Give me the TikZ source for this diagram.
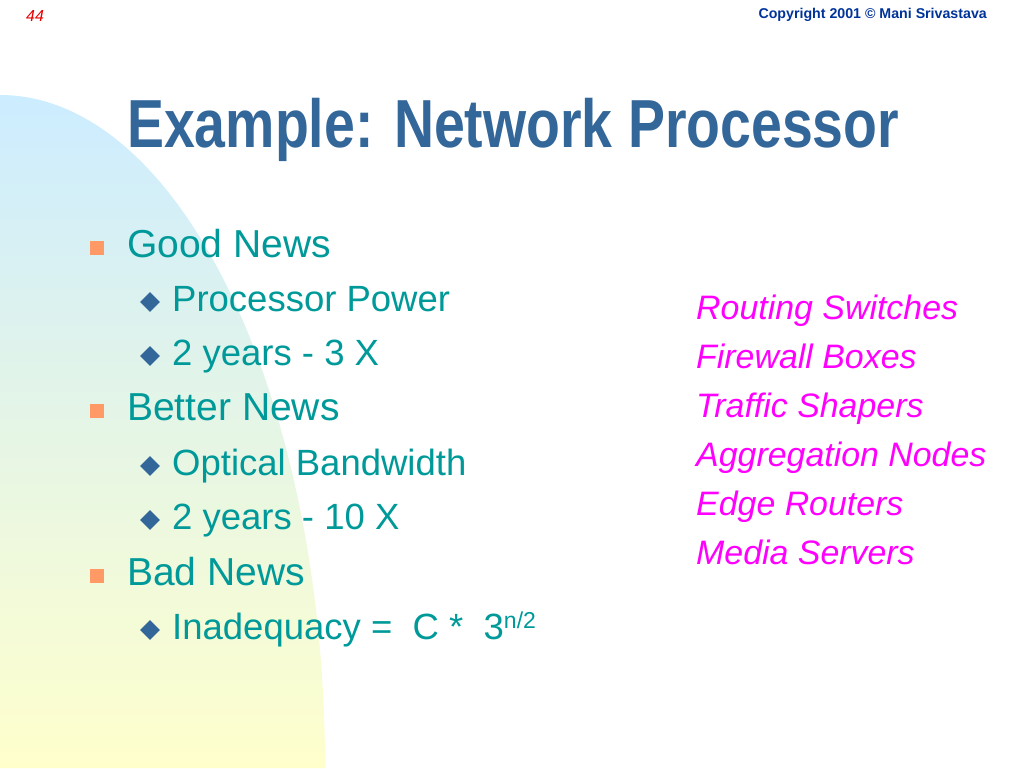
\documentclass[tikz,border=0pt]{standalone}
\usepackage{fontspec}
\setmainfont{Liberation Sans}
\usepackage{tikz}
\usetikzlibrary{shapes.geometric,positioning}

\definecolor{titleblue}{RGB}{51,102,153}
\definecolor{newsteal}{RGB}{0,153,153}
\definecolor{bulletorange}{RGB}{255,153,102}
\definecolor{usemagenta}{RGB}{255,0,255}
\definecolor{copyblue}{RGB}{0,51,153}
\definecolor{pagered}{RGB}{230,0,0}
\definecolor{fadetop}{RGB}{204,236,255}
\definecolor{fadebottom}{RGB}{255,255,204}

\begin{document}
\begin{tikzpicture}[x=1pt, y=-1pt,
    every node/.style={inner sep=0pt, anchor=base west},
    title/.style={text=titleblue, font=\fontsize{68}{80}\selectfont\bfseries},
    copyright/.style={text=copyblue, font=\fontsize{14.2}{17}\selectfont\bfseries, anchor=base east},
    pagenum/.style={text=pagered, font=\fontsize{16}{19}\selectfont\itshape},
    headitem/.style={text=newsteal, font=\fontsize{39}{46}\selectfont},
    subitem/.style={text=newsteal, font=\fontsize{36.5}{44}\selectfont},
    usecase/.style={text=usemagenta, font=\fontsize{33.9}{40}\selectfont\itshape},
    sqbullet/.style={rectangle, fill=bulletorange, minimum size=14pt, anchor=center},
    dmbullet/.style={diamond, fill=titleblue, minimum width=20pt, minimum height=20pt, anchor=center}]

    \useasboundingbox (0,0) rectangle (1024,768);

    % fading quarter at the left
    \shade[top color=fadetop, bottom color=fadebottom]
        (0,768) -- (0,95) arc[start angle=-90, end angle=0, x radius=325, y radius=673] -- cycle;

    \node[pagenum] (page) at (26,22) {44};
    \node[copyright] (copy) at (987,19) {Copyright 2001 © Mani Srivastava};
    \node[title] (title) at (127,147) {\scalebox{0.815}[1]{Example: Network Processor}};

    % bullet list
    \node[sqbullet] (b1) at (97,248) {};
    \node[headitem] (good) at (127,257) {Good News};
    \node[dmbullet] (d1) at (150,302) {};
    \node[subitem] (power) at (172,311) {Processor Power};
    \node[dmbullet] (d2) at (150,356) {};
    \node[subitem] (three) at (172,365) {2 years - 3 X};

    \node[sqbullet] (b2) at (97,411) {};
    \node[headitem] (better) at (127,420) {Better News};
    \node[dmbullet] (d3) at (150,466) {};
    \node[subitem] (optical) at (172,475) {Optical Bandwidth};
    \node[dmbullet] (d4) at (150,520) {};
    \node[subitem] (ten) at (172,529) {2 years - 10 X};

    \node[sqbullet] (b3) at (97,576) {};
    \node[headitem] (bad) at (127,585) {Bad News};
    \node[dmbullet] (d5) at (150,630) {};
    \node[subitem] (inadequacy) at (172,639)
        {Inadequacy =~ C *~ 3\raisebox{11pt}{\fontsize{23}{27}\selectfont n/2}};

    % applications on the right
    \foreach \usetext [count=\i] in {Routing Switches, Firewall Boxes, Traffic Shapers,
        Aggregation Nodes, Edge Routers, Media Servers}
        \node[usecase] (use\i) at (696,{319+49*(\i-1)}) {\usetext};
\end{tikzpicture}
\end{document}
